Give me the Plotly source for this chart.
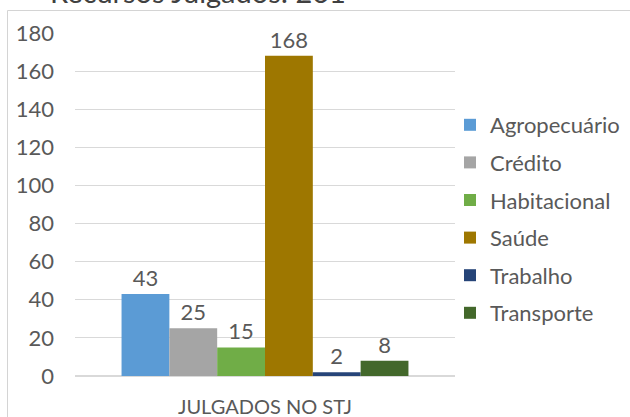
import plotly.graph_objects as go

categories = ["JULGADOS NO STJ"]
series_names = ["Agropecuário", "Crédito", "Habitacional", "Saúde", "Trabalho", "Transporte"]
series_values = [43, 25, 15, 168, 2, 8]
series_colors = ["#5B9BD5", "#A5A5A5", "#70AD47", "#9E7700", "#264478", "#43682B"]
y_ticks = [0, 20, 40, 60, 80, 100, 120, 140, 160, 180]
title_text = "Recursos Julgados: 261"

FONT = "Lato"
TXT = "#595959"

fig = go.Figure()
for name, val, col in zip(series_names, series_values, series_colors):
    fig.add_trace(go.Bar(
        x=categories, y=[val], name=name, marker_color=col, marker_line_width=0,
        text=[str(val)], textposition="outside", cliponaxis=False,
        textfont=dict(family=FONT, size=22, color=TXT),
        legendgroup=name,
    ))

L, R, T, B = 75, 175, 33, 41
W, H = 630, 417
pw, ph = W - L - R, H - T - B

def px_x(x):
    return (x - L) / pw

def px_y(y):
    return (H - B - y) / ph

fig.update_layout(
    width=W, height=H,
    margin=dict(l=L, r=R, t=T, b=B, autoexpand=False),
    paper_bgcolor="white", plot_bgcolor="white",
    barmode="group", bargap=0.245, bargroupgap=0,
    font=dict(family=FONT, size=22, color=TXT),
    showlegend=True,
    legend=dict(x=px_x(450), y=px_y(104), xanchor="left", yanchor="top",
                font=dict(family=FONT, size=22, color=TXT),
                tracegroupgap=6, itemclick=False, bgcolor="rgba(0,0,0,0)"),
    shapes=[dict(type="rect", xref="paper", yref="paper",
                 x0=px_x(7.5), x1=px_x(660), y0=px_y(10.5), y1=px_y(440),
                 line=dict(color="#D4D4D4", width=1), layer="below")],
    annotations=[dict(text=title_text, xref="paper", yref="paper",
                      x=px_x(198), y=px_y(11), xanchor="center", yanchor="bottom",
                      showarrow=False, font=dict(family=FONT, size=29, color="#404040"))],
)
fig.update_yaxes(range=[0, 180], tickvals=y_ticks, showgrid=True, gridcolor="#D9D9D9",
                 gridwidth=1, zeroline=True, zerolinecolor="#D9D9D9", showline=False,
                 ticks="", tickfont=dict(family=FONT, size=22, color=TXT), ticklabelstandoff=20,
                 automargin=False)
fig.update_xaxes(showline=False, ticks="", tickfont=dict(family=FONT, size=20, color=TXT),
                 ticklabelstandoff=17, automargin=False)

fig.write_html("out.html", config={"displayModeBar": False},
               post_script="document.body.style.margin='0';document.body.style.overflow='hidden';")
